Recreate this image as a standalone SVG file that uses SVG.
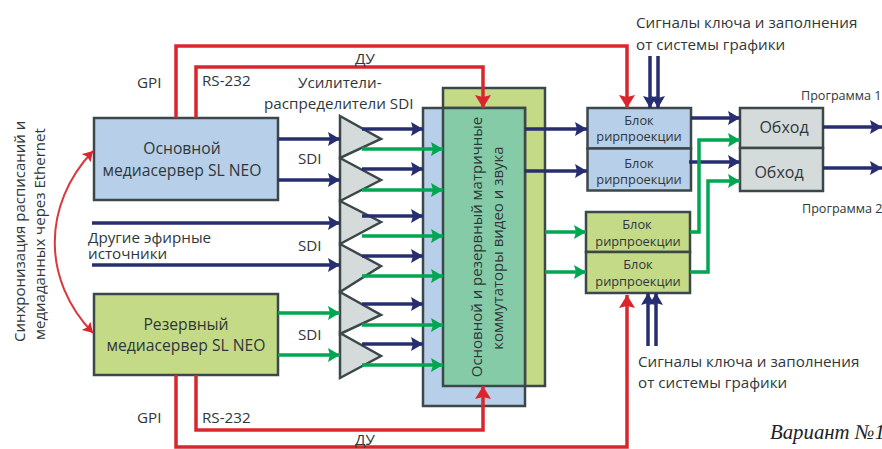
<svg xmlns="http://www.w3.org/2000/svg" width="882" height="449" viewBox="0 0 882 449">
<style>
text{font-family:"Open Sans","Noto Sans","Liberation Sans",sans-serif;fill:#30373a;font-size:15.2px}
.m{text-anchor:middle}
.v{font-size:15px}
.nt{font-size:15.7px}
.s{font-size:12.8px}
.p{font-size:12.6px}
.o{font-size:16px}
.box{stroke:#3c4749;stroke-width:2.5}
.blue{fill:#b7cfe9}
.green{fill:#c4da86}
.gray{fill:#d5dbdb}
.teal{fill:#85cba8}
.tri{fill:#d5dbdb;stroke:#3c4749;stroke-width:2.5;stroke-linejoin:miter}
.c{fill:none}
.n{stroke:#262d70;stroke-width:3.5;marker-end:url(#an)}
.g{stroke:#00a651;stroke-width:3.5;marker-end:url(#ag)}
.r{stroke:#d9282d;stroke-width:3.5;marker-end:url(#ar)}
.sync{stroke:#d9383c;stroke-width:2;marker-start:url(#as);marker-end:url(#as)}
</style>
<defs>
<filter id="soft" x="-5%" y="-5%" width="110%" height="110%"><feGaussianBlur stdDeviation="0.45"/></filter>
<marker id="an" markerUnits="userSpaceOnUse" markerWidth="14" markerHeight="14" refX="12" refY="7" orient="auto"><path d="M0 0L12 7L0 14L2 7Z" fill="#262d70"/></marker>
<marker id="ag" markerUnits="userSpaceOnUse" markerWidth="14" markerHeight="14" refX="12" refY="7" orient="auto"><path d="M0 0L12 7L0 14L2 7Z" fill="#00a651"/></marker>
<marker id="ar" markerUnits="userSpaceOnUse" markerWidth="14" markerHeight="16" refX="13" refY="8" orient="auto"><path d="M0 0L13 8L0 16L2 8Z" fill="#d9282d"/></marker>
<marker id="as" markerUnits="userSpaceOnUse" markerWidth="12" markerHeight="12" refX="10" refY="6" orient="auto-start-reverse"><path d="M0 0L10 6L0 12L2 6Z" fill="#d9282d"/></marker>
</defs>
<g id="switch">
<rect class="box green" x="443" y="88" width="102" height="298"/>
<rect class="box blue" x="423" y="108" width="102" height="298"/>
<rect class="box teal" x="443" y="108" width="82" height="278"/>
<text class="m v" transform="translate(482 247) rotate(-90)">Основной и резервный матричные</text>
<text class="m v" transform="translate(503 248) rotate(-90)">коммутаторы видео и звука</text>
</g>
<g id="main-server"><rect class="box blue" x="94" y="118" width="184" height="82"/>
<text class="m nt" x="182" y="154">Основной</text><text class="m nt" x="182" y="176">медиасервер SL NEO</text></g>
<g id="reserve-server"><rect class="box green" x="94" y="294" width="184" height="81"/>
<text class="m nt" x="186" y="330">Резервный</text><text class="m nt" x="186" y="351">медиасервер SL NEO</text></g>
<g id="amp-1"><path class="tri" d="M340 116L381 139L340 158Z"/></g>
<g id="amp-2"><path class="tri" d="M340 158L381 180L340 201Z"/></g>
<g id="amp-3"><path class="tri" d="M340 201L381 222L340 244Z"/></g>
<g id="amp-4"><path class="tri" d="M340 244L381 266L340 292Z"/></g>
<g id="amp-5"><path class="tri" d="M340 292L381 315L340 334Z"/></g>
<g id="amp-6"><path class="tri" d="M340 333L381 356L340 378Z"/></g>
<g id="rp-1"><rect class="box blue" x="587.500" y="108" width="103.500" height="40.500"/><text class="m s" x="639" y="125">Блок</text><text class="m s" x="639" y="141">рирпроекции</text></g>
<g id="rp-2"><rect class="box blue" x="587.500" y="148.500" width="103.500" height="42"/><text class="m s" x="639" y="168">Блок</text><text class="m s" x="639" y="184">рирпроекции</text></g>
<g id="rp-3"><rect class="box green" x="586" y="212" width="104" height="40"/><text class="m s" x="637" y="229">Блок</text><text class="m s" x="638" y="246">рирпроекции</text></g>
<g id="rp-4"><rect class="box green" x="586" y="252" width="104" height="41"/><text class="m s" x="638" y="269">Блок</text><text class="m s" x="638" y="286">рирпроекции</text></g>
<g id="bypass-1"><rect class="box gray" x="740" y="108" width="83" height="40"/><text class="m o" x="784" y="133">Обход</text></g>
<g id="bypass-2"><rect class="box gray" x="740" y="148" width="83" height="43"/><text class="m o" x="779" y="178">Обход</text></g>
<g id="connectors" class="c" filter="url(#soft)">
<path class="n" d="M278 139H340"/><path class="n" d="M278 180H340"/>
<path class="n" d="M92 223H340"/><path class="n" d="M92 265H340"/>
<path class="g" d="M278 313H340"/><path class="g" d="M278 355H340"/>
<path class="n" d="M362 129H423"/><path class="g" d="M362 149H443"/>
<path class="n" d="M362 169H423"/><path class="g" d="M362 190H443"/>
<path class="n" d="M362 216H423"/><path class="g" d="M362 236H443"/>
<path class="n" d="M362 256H423"/><path class="g" d="M362 276H443"/>
<path class="n" d="M362 304H423"/><path class="g" d="M362 325H443"/>
<path class="n" d="M362 344H423"/><path class="g" d="M362 365H443"/>
<path class="n" d="M525 129H587"/><path class="n" d="M525 171H587"/>
<path class="g" d="M545 232H586"/><path class="g" d="M545 272H586"/>
<path class="n" d="M691 118H740"/><path class="n" d="M689 162H740"/>
<path class="g" d="M690 232H699V140H740"/><path class="g" d="M690 272H708V181H740"/>
<path class="n" d="M823 127H882"/><path class="n" d="M823 168H882"/>
<path class="n" d="M650 56V108"/><path class="n" d="M658 56V108"/>
<path class="n" d="M648 346V293"/><path class="n" d="M656 346V293"/>
<path class="r" d="M176 118V46H627V108"/>
<path class="r" d="M196 118V67H483V108"/>
<path class="r" d="M176 375V447H627V295"/>
<path class="r" d="M196 375V430H483V386"/>
<path class="sync" d="M93 151C42 205 42 280 93 333"/>
</g>
<g id="labels">
<text class="v" transform="translate(25 342) rotate(-90)">Синхронизация расписаний и</text>
<text class="v" transform="translate(45 340) rotate(-90)">медиаданных через Ethernet</text>
<text x="137" y="88">GPI</text><text x="202" y="86">RS-232</text>
<text x="355" y="64">ДУ</text>
<text x="298" y="88">Усилители-</text><text x="264" y="109">распределители SDI</text>
<text x="298" y="164">SDI</text><text x="298" y="251">SDI</text><text x="298" y="340">SDI</text>
<text x="88" y="243">Другие эфирные</text><text x="88" y="259">источники</text>
<text x="137" y="423">GPI</text><text x="202" y="423">RS-232</text>
<text x="355" y="445">ДУ</text>
<text x="636" y="28">Сигналы ключа и заполнения</text><text x="636" y="50">от системы графики</text>
<text x="638" y="367">Сигналы ключа и заполнения</text><text x="638" y="388">от системы графики</text>
<text class="p" x="801" y="100">Программа 1</text><text class="p" x="802" y="213">Программа 2</text>
<text x="770" y="439" style="font-family:'Liberation Serif',serif;font-style:italic;font-size:20.8px;fill:#222">Вариант №1</text>
</g>
</svg>
